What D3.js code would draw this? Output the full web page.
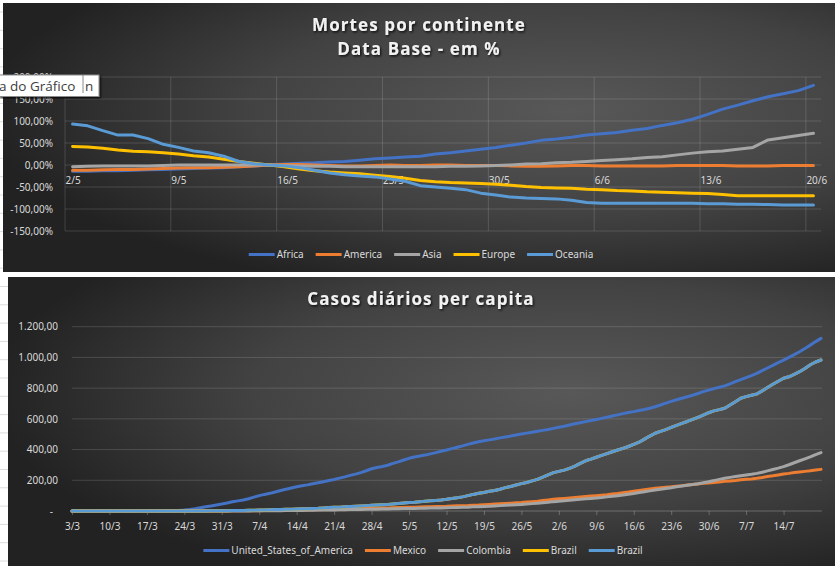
<!DOCTYPE html>
<html>
<head>
<meta charset="utf-8">
<script src="https://cdn.jsdelivr.net/npm/d3@7/dist/d3.min.js"></script>
<style>
	body { margin: 0; background: #ffffff; }
	svg { display: block; }
</style>
</head>
<body>
<script>
// Chart 1: Mortes por continente, variação em % a partir da data base (2/5 a 20/6)
let deathStart = new Date(2020, 4, 2);
let deathTicks = [-1.5, -1, -0.5, 0, 0.5, 1, 1.5, 2];
let continents = ["Africa", "America", "Asia", "Europe", "Oceania"];
let africa = [-14,-14,-13,-13,-12,-11,-10,-9,-8,-7, -6,-4,-2,0,2,4,5,7,8,11, 14,16,18,20,25,28,32,36,40,45, 50,56,59,63,68,71,74,79,83,90, 96,104,115,127,136,146,155,162,169,181];
let america = [-12,-12,-11,-10,-10,-9,-8,-7,-6,-6, -5,-4,-2,0,1,1,0,-1,-2,-2, -1,0,-1,-1,0,0,-1,-1,-1,-2, -3,-3,-2,-1,-1,-2,-2,-2,-2,-2, -1,-1,-1,-1,-2,-2,-2,-1,-1,-1];
let asia = [-4,-3,-2,-2,-2,-2,-1,0,0,0, 0,0,0,0,-1,-2,-3,-3,-4,-4, -4,-4,-4,-4,-4,-3,-3,-2,-1,0, 2,3,5,6,8,10,12,14,17,19, 23,27,30,32,36,40,57,62,67,72];
let europe = [42,41,38,34,31,30,28,25,21,18, 13,8,4,0,-4,-9,-13,-16,-18,-20, -23,-26,-30,-35,-38,-40,-41,-42,-44,-46, -49,-51,-52,-53,-55,-56,-58,-59,-61,-62, -63,-64,-65,-67,-70,-70,-70,-70,-70,-70];
let oceania = [93,89,78,68,68,60,47,40,32,28, 20,8,3,0,-2,-6,-12,-18,-22,-25, -27,-32,-37,-47,-50,-53,-56,-64,-68,-73, -75,-76,-77,-80,-85,-87,-87,-87,-87,-87, -87,-87,-88,-88,-89,-89,-90,-91,-91,-91];

// Chart 2: Casos diários per capita (3/3 a 21/7)
let casesStart = new Date(2020, 2, 3);
let casesTicks = [0, 200, 400, 600, 800, 1000, 1200];
let countries = ["United_States_of_America", "Mexico", "Colombia", "Brazil", "Brazil"];
let usa = [0,0,0,0,0,0,0,0,0,0, 0,0,0,0,0,0,0,0,1,1, 3,6,10,15,21,27,33,39,45,52, 60,66,72,80,90,100,108,115,124,133,
	142,150,158,164,170,177,184,191,198,205, 214,222,232,240,250,262,275,283,290,298, 310,320,332,343,352,358,364,372,380,389,
	397,406,415,424,434,443,451,457,463,469, 476,482,488,495,501,507,513,519,525,531, 538,545,552,560,568,575,582,589,596,603,
	610,618,626,634,641,647,654,661,669,679, 690,702,714,724,734,744,754,765,777,787, 797,806,815,828,842,856,869,882,896,914,
	931,948,966,983,1000,1018,1037,1058,1080,1103, 1124];
let mexico = [0,0,0,0,0,0,0,0,0,0, 0,0,0,0,0,0,0,0,0,0, 0,0,0,0,0,0,0,0,0,0, 1,1,1,2,2,2,3,3,4,4,
	5,5,6,6,7,8,8,9,10,11, 12,12,13,14,15,16,17,18,19,20, 21,22,23,24,25,26,27,28,29,30,
	31,33,34,35,36,38,39,41,43,45, 47,49,51,53,55,58,61,64,68,72, 76,79,82,85,88,91,94,97,100,103,
	106,110,114,119,123,128,133,138,143,148, 152,155,158,162,165,169,172,176,180,183, 186,189,193,196,199,203,206,209,213,218,
	224,229,235,241,245,250,254,258,262,267, 271];
let colombia = [0,0,0,0,0,0,0,0,0,0, 0,0,0,0,0,0,0,0,0,0, 0,0,0,0,0,0,0,0,0,0, 0,0,0,0,1,1,1,2,2,2,
	3,3,4,4,5,5,6,6,7,7, 8,8,9,10,10,11,11,12,13,13, 14,15,16,16,17,18,18,19,20,20,
	21,22,23,24,25,27,28,30,31,33, 35,37,39,41,43,45,48,51,54,57, 61,64,67,70,73,76,79,82,85,88,
	92,96,100,104,109,114,120,126,131,137, 142,147,152,158,163,168,173,178,184,191, 198,206,213,219,224,229,234,239,245,252,
	261,270,279,289,301,314,327,340,353,367, 380];
let brazil = [0,0,0,0,0,0,0,0,0,0, 0,0,0,0,0,0,0,0,0,0, 0,0,0,0,0,0,1,1,2,2, 3,3,4,5,5,6,7,8,9,10,
	11,12,13,14,15,17,18,20,22,24, 25,27,29,31,33,35,37,39,41,43, 46,49,52,55,57,60,63,66,69,72,
	76,81,86,92,100,108,115,121,128,134, 142,152,160,169,178,186,196,206,220,235, 250,258,266,278,292,310,327,338,350,362,
	374,386,397,408,420,434,448,468,488,506, 518,530,544,558,571,583,596,610,625,640, 652,660,669,690,712,734,745,754,762,782,
	804,825,845,864,874,890,907,928,952,970, 983];

// Excel palette
let palette = ["#4472C4", "#ED7D31", "#A5A5A5", "#FFC000", "#5B9BD5"];

// pt-BR number formats
let ptBR = d3.formatLocale({ decimal: ",", thousands: ".", grouping: [3], currency: ["R$", ""], minus: "-" });
let pct = ptBR.format(".2%");
let num = ptBR.format(",.2f");
let dayMonth = d3.timeFormat("%-d/%-m");

let W = 835, H = 566;
let svg = d3.select("body").append("svg").attr("width", W).attr("height", H);

// Worksheet cell lines peeking out on the left
svg.append("g").selectAll("line")
	.data(d3.range(12, H, 18.3))
	.enter().append("line")
	.attr("x1", 0).attr("x2", 8)
	.attr("y1", d => d).attr("y2", d => d)
	.attr("stroke", "#dcdcdc");

let defs = svg.append("defs");
let grad = defs.append("radialGradient").attr("id", "bg")
	.attr("cx", 0.68).attr("cy", 0.4).attr("r", 0.7);
grad.append("stop").attr("offset", 0).attr("stop-color", "#585858");
grad.append("stop").attr("offset", 0.55).attr("stop-color", "#424242");
grad.append("stop").attr("offset", 1).attr("stop-color", "#222222");
let shadow = defs.append("filter").attr("id", "shadow");
shadow.append("feDropShadow").attr("dx", 1.2).attr("dy", 1.4).attr("stdDeviation", 1)
	.attr("flood-color", "#000").attr("flood-opacity", 0.8);

let labelFont = "'Noto Sans', sans-serif";
let gridColor = "rgba(217,217,217,0.18)";

// Draws a title with Excel style letter spacing and a shadow
let title = (lines, cx, y0) => {
	lines.forEach((t, i) => svg.append("text")
		.attr("x", cx).attr("y", y0 + i * 23.5)
		.attr("text-anchor", "middle")
		.attr("font-family", "'Open Sans', sans-serif")
		.attr("font-weight", "bold")
		.attr("font-size", 17)
		.attr("letter-spacing", 1.1)
		.attr("fill", "#f2f2f2")
		.attr("filter", "url(#shadow)")
		.text(t));
};

// Draws a centred legend row
let legend = (names, cx, y) => {
	let g = svg.append("g");
	let items = g.selectAll("g").data(names).enter().append("g");
	items.append("line")
		.attr("x1", 0).attr("x2", 26).attr("y1", y).attr("y2", y)
		.attr("stroke", (d, i) => palette[i]).attr("stroke-width", 3);
	items.append("text")
		.attr("x", 28).attr("y", y + 3.6)
		.attr("font-family", labelFont).attr("font-size", 10)
		.attr("fill", "#d9d9d9")
		.text(d => d);
	let pos = 0, offsets = [];
	items.each(function () {
		offsets.push(pos);
		pos += 28 + this.querySelector("text").getComputedTextLength() + 12;
	});
	let total = pos - 12;
	items.attr("transform", (d, i) => "translate(" + (cx - total / 2 + offsets[i]) + ",0)");
};

let styleAxis = (g) => {
	g.select(".domain").remove();
	g.selectAll("text")
		.attr("font-family", labelFont)
		.attr("font-size", 10)
		.attr("fill", "#d9d9d9");
};

// ------------------------------- Chart 1

svg.append("rect").attr("x", 3).attr("y", 3).attr("width", W - 3).attr("height", 269).attr("fill", "url(#bg)");

let x1 = d3.scaleTime().domain([deathStart, d3.timeDay.offset(deathStart, 50)]).range([65, 821]);
let y1 = d3.scaleLinear().domain([-1.5, 2]).range([231, 77]);
let weeks1 = d3.timeDay.range(deathStart, d3.timeDay.offset(deathStart, 50), 7);

svg.append("g").selectAll("line").data(deathTicks).enter().append("line")
	.attr("x1", 65).attr("x2", 821)
	.attr("y1", d => y1(d)).attr("y2", d => y1(d))
	.attr("stroke", gridColor);
svg.append("g").selectAll("line").data(weeks1).enter().append("line")
	.attr("x1", d => x1(d)).attr("x2", d => x1(d))
	.attr("y1", y1(2)).attr("y2", y1(-1.5))
	.attr("stroke", gridColor);

svg.append("g").attr("transform", "translate(65,0)")
	.call(d3.axisLeft(y1).tickValues(deathTicks).tickFormat(pct).tickSize(0).tickPadding(12))
	.call(styleAxis);

svg.append("g").attr("transform", "translate(0," + y1(0) + ")")
	.call(d3.axisBottom(x1).tickValues(weeks1).tickFormat(dayMonth).tickSize(0).tickPadding(12))
	.call(styleAxis)
	.selectAll("text").attr("text-anchor", "start").attr("x", 0);

let deathLine = d3.line()
	.x((d, i) => x1(d3.timeHour.offset(d3.timeDay.offset(deathStart, i), 12)))
	.y(d => y1(d / 100));

svg.append("g").selectAll("path")
	.data([africa, america, asia, europe, oceania])
	.enter().append("path")
	.attr("d", deathLine)
	.attr("fill", "none")
	.attr("stroke", (d, i) => palette[i])
	.attr("stroke-width", 3)
	.attr("stroke-linejoin", "round")
	.attr("stroke-linecap", "round");

title(["Mortes por continente", "Data Base - em %"], 419, 31);
legend(continents, 421, 254.5);

// ------------------------------- Chart 2

svg.append("rect").attr("x", 8).attr("y", 277).attr("width", W - 8).attr("height", H - 277).attr("fill", "url(#bg)");

let x2 = d3.scaleTime().domain([casesStart, d3.timeDay.offset(casesStart, 140)]).range([72, 821]);
let y2 = d3.scaleLinear().domain([0, 1200]).range([511, 326.7]);
let weeks2 = d3.timeDay.range(casesStart, d3.timeDay.offset(casesStart, 140), 7);

svg.append("g").selectAll("line").data(casesTicks.slice(1)).enter().append("line")
	.attr("x1", 72).attr("x2", 822)
	.attr("y1", d => y2(d)).attr("y2", d => y2(d))
	.attr("stroke", gridColor);

let yAxis2 = svg.append("g").attr("transform", "translate(72,0)")
	.call(d3.axisLeft(y2).tickValues(casesTicks).tickFormat(d => d === 0 ? "-" : num(d)).tickSize(0).tickPadding(14))
	.call(styleAxis);
yAxis2.selectAll("text").filter(d => d === 0).attr("x", -19);

let xAxis2 = svg.append("g").attr("transform", "translate(0," + y2(0) + ")")
	.call(d3.axisBottom(x2).tickValues(weeks2).tickFormat(dayMonth).tickSize(4).tickSizeOuter(0).tickPadding(8));
xAxis2.select(".domain").attr("stroke", "rgba(217,217,217,0.3)").attr("d", "M72,0H822");
xAxis2.selectAll(".tick line").attr("stroke", "rgba(217,217,217,0.3)");
xAxis2.selectAll("text")
	.attr("font-family", labelFont)
	.attr("font-size", 10)
	.attr("fill", "#d9d9d9");

let casesLine = d3.line()
	.x((d, i) => x2(d3.timeDay.offset(casesStart, i)))
	.y(d => y2(d));

svg.append("g").selectAll("path")
	.data([usa, mexico, colombia, brazil, brazil])
	.enter().append("path")
	.attr("d", casesLine)
	.attr("fill", "none")
	.attr("stroke", (d, i) => palette[i])
	.attr("stroke-width", 3)
	.attr("stroke-linejoin", "round")
	.attr("stroke-linecap", "round");

title(["Casos diários per capita"], 421, 305);
legend(countries, 423, 550.5);

// ------------------------------- Excel tooltip over the first chart
let tip = svg.append("g");
tip.append("rect").attr("x", -1).attr("y", 75).attr("width", 100).attr("height", 21.5)
	.attr("fill", "#ffffff").attr("stroke", "#8a8a8a").attr("filter", "url(#shadow)");
tip.append("line").attr("x1", 83).attr("x2", 83).attr("y1", 75).attr("y2", 93)
	.attr("stroke", "#8a8a8a");
tip.append("text").attr("x", -1).attr("y", 90.5)
	.attr("font-family", "'Open Sans', sans-serif").attr("font-size", 13.5)
	.attr("fill", "#3c3c3c").text("a do Gráfico");
tip.append("text").attr("x", 85).attr("y", 90.5)
	.attr("font-family", "'Open Sans', sans-serif").attr("font-size", 13.5)
	.attr("fill", "#3c3c3c").text("n");
</script>
</body>
</html>
